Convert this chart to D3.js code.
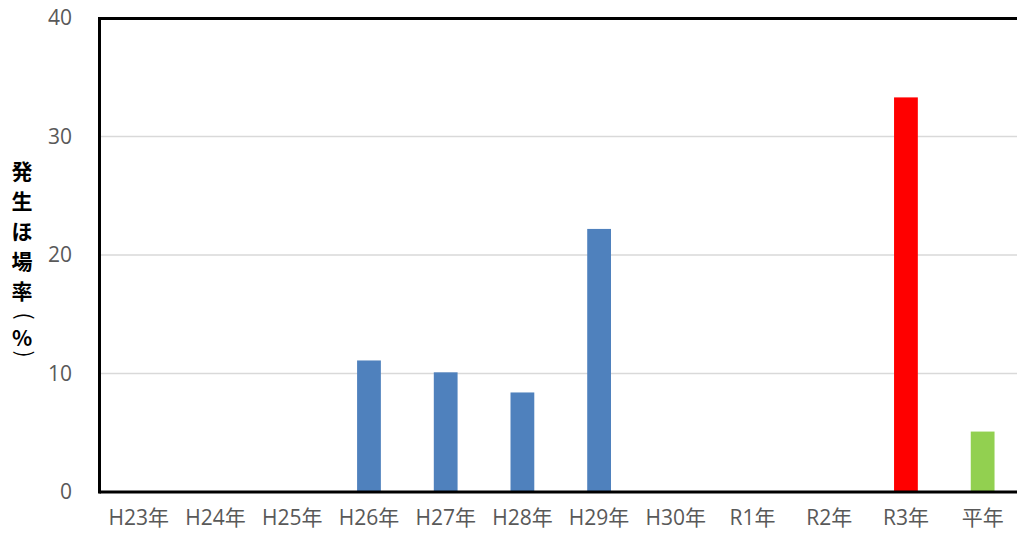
<!DOCTYPE html>
<html>
<head>
<meta charset="utf-8">
<script src="https://cdn.jsdelivr.net/npm/d3@7"></script>
<style>
  html, body { margin: 0; padding: 0; background: #fff; }
  svg { display: block; }
</style>
</head>
<body>
<svg id="chart" width="1017" height="539"></svg>
<script>
const categories = ["H23年","H24年","H25年","H26年","H27年","H28年","H29年","H30年","R1年","R2年","R3年","平年"];
const values = [0, 0, 0, 11.1, 10.1, 8.4, 22.2, 0, 0, 0, 33.3, 5.1];
const barColors = ["#4F81BD","#4F81BD","#4F81BD","#4F81BD","#4F81BD","#4F81BD","#4F81BD","#4F81BD","#4F81BD","#4F81BD","#FF0000","#92D050"];
const yTicks = [0, 10, 20, 30, 40];
const yTitleChars = ["発","生","ほ","場","率","(","%",")"];

const svg = d3.select("#chart");
const font = "'Open Sans', 'Noto Sans CJK JP', sans-serif";
const cjk = "'Noto Sans CJK JP', sans-serif";

const x = d3.scaleBand().domain(categories).range([100.5, 1021]).padding(0);
const y = d3.scaleLinear().domain([0, 40]).range([492, 18]);
const barW = x.step() * 0.31;

// gridlines
svg.append("g").selectAll("line").data(yTicks.filter(d => d > 0 && d < 40)).join("line")
  .attr("x1", 100).attr("x2", 1017)
  .attr("y1", d => y(d)).attr("y2", d => y(d))
  .attr("stroke", "#D9D9D9").attr("stroke-width", 1.5);

// bars
svg.append("g").selectAll("rect").data(categories).join("rect")
  .attr("x", (d) => x(d) + x.bandwidth() / 2 - barW / 2)
  .attr("width", barW)
  .attr("y", (d, i) => y(values[i]))
  .attr("height", (d, i) => y(0) - y(values[i]))
  .attr("fill", (d, i) => barColors[i]);

// frame
svg.append("line").attr("x1", 99.5).attr("x2", 1017).attr("y1", 18.5).attr("y2", 18.5)
  .attr("stroke", "#000").attr("stroke-width", 3);
svg.append("line").attr("x1", 99.5).attr("x2", 1017).attr("y1", 492).attr("y2", 492)
  .attr("stroke", "#000").attr("stroke-width", 3);
svg.append("line").attr("x1", 99.5).attr("x2", 99.5).attr("y1", 17).attr("y2", 493.5)
  .attr("stroke", "#000").attr("stroke-width", 3);

// y tick labels
const yAxis = d3.axisLeft(y).tickValues(yTicks).tickSize(0).tickPadding(0);
const gy = svg.append("g").attr("transform", "translate(72,0)").call(yAxis);
gy.select(".domain").remove();
gy.selectAll("text").attr("font-family", font).attr("font-size", 21).attr("fill", "#595959");

// x tick labels
const xAxis = d3.axisBottom(x).tickSize(0).tickPadding(0);
const gx = svg.append("g").attr("transform", "translate(0,510)").call(xAxis);
gx.select(".domain").remove();
gx.selectAll("text").attr("font-family", font).attr("font-size", 21).attr("fill", "#595959").attr("dy", "0.71em");

// y title (vertical stacked)
const titleY = [170, 200, 230, 260, 290, 316, 337, 354];
svg.append("g").selectAll("text").data(yTitleChars).join("text")
  .attr("transform", (d, i) => (d === "(" || d === ")") ? `translate(26,${titleY[i]}) rotate(90)` : `translate(22,${titleY[i]})`)
  .attr("text-anchor", "middle").attr("dominant-baseline", "central")
  .attr("font-family", cjk).attr("font-size", 21)
  .attr("font-weight", (d) => (d === "(" || d === ")") ? "normal" : "bold")
  .attr("fill", "#000")
  .text(d => d);
</script>
</body>
</html>
